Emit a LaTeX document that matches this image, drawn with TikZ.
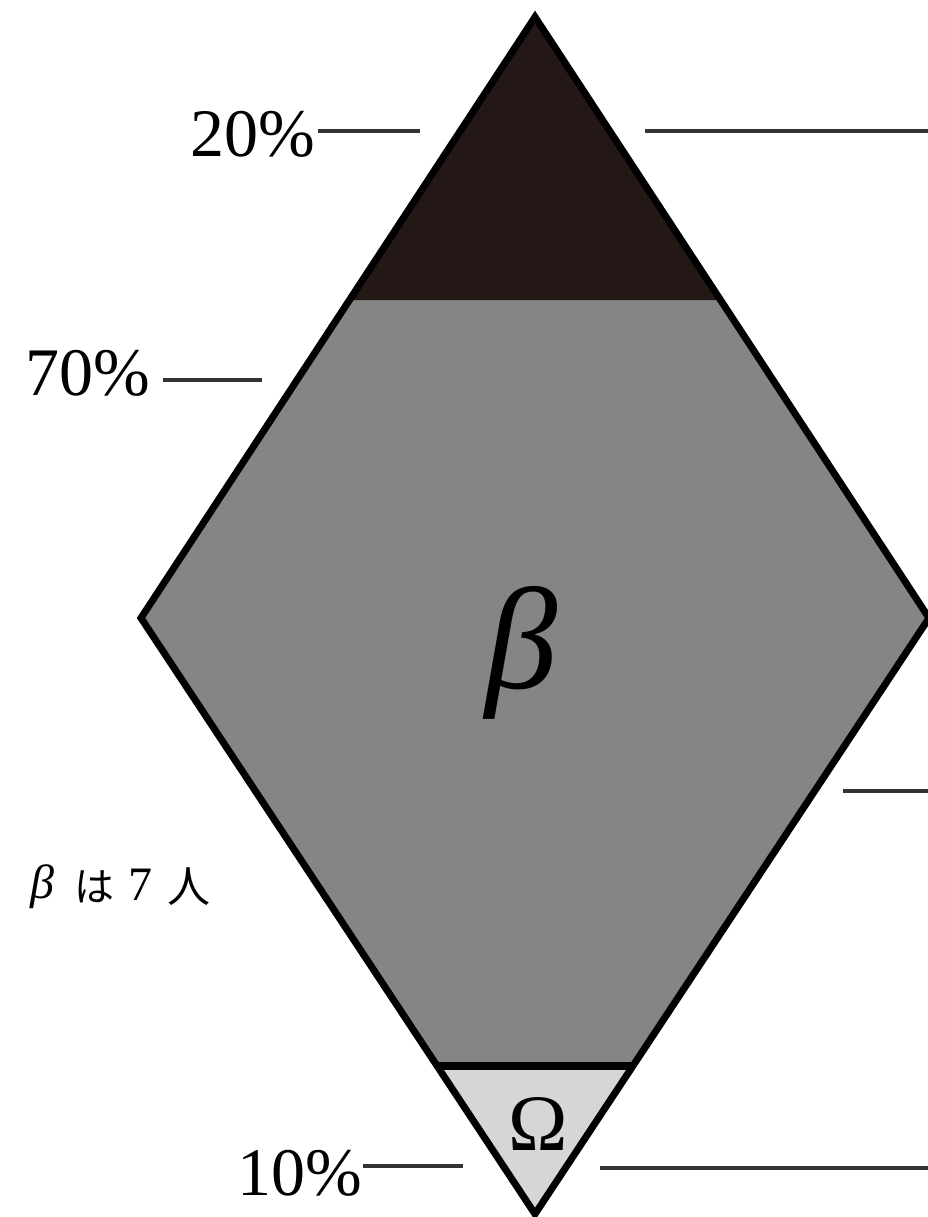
\documentclass[tikz,border=0pt]{standalone}
\usepackage{fontspec}
\setmainfont{Liberation Serif}
\newfontfamily\cjk{Noto Sans CJK JP}
\definecolor{inkdark}{HTML}{231815}
\definecolor{midgrey}{HTML}{858585}
\definecolor{lightgrey}{HTML}{D6D6D6}
\definecolor{leader}{HTML}{333333}
\tikzset{
  leaderline/.style={draw=leader, line width=3.2pt},
  pctlabel/.style={inner sep=0pt, anchor=base west, font=\fontsize{68}{68}\selectfont},
  outline/.style={draw=black, line width=7pt, line join=miter},
}
\begin{document}
\begin{tikzpicture}[x=1pt,y=-1pt]
\useasboundingbox (0,0) rectangle (928,1217);
% diamond vertices
\coordinate (T) at (535,17);
\coordinate (L) at (141,618);
\coordinate (R) at (929,618);
\coordinate (B) at (535,1214);
% region boundaries
\coordinate (UL) at (349.5,300);
\coordinate (UR) at (720.5,300);
\coordinate (DL) at (437.2,1066);
\coordinate (DR) at (632.8,1066);
% fills
\fill[midgrey] (T) -- (R) -- (B) -- (L) -- cycle;
\fill[inkdark] (T) -- (UR) -- (UL) -- cycle;
\fill[lightgrey] (DL) -- (DR) -- (B) -- cycle;
\draw[black, line width=8pt] (DL) -- (DR);
\draw[outline] (T) -- (R) -- (B) -- (L) -- cycle;
% inner labels
\node[inner sep=0pt, anchor=base, font=\fontsize{145}{145}\selectfont\itshape] (beta) at (522,688) {β};
\node[inner sep=0pt, anchor=base, font=\fontsize{80}{80}\selectfont] (omega) at (538,1150) {Ω};
% percentage labels
\node[pctlabel] (p20) at (190,157) {20\%};
\node[pctlabel] (p70) at (25,395) {70\%};
\node[pctlabel] (p10) at (237,1195) {10\%};
% leader lines
\coordinate (a1) at (318,131);
\coordinate (a2) at (420,131);
\coordinate (a3) at (645,131);
\coordinate (a4) at (928,131);
\coordinate (b1) at (163,380);
\coordinate (b2) at (262,380);
\coordinate (c1) at (843,791);
\coordinate (c2) at (928,791);
\coordinate (d1) at (363,1166);
\coordinate (d2) at (463,1166);
\coordinate (e1) at (600,1168);
\coordinate (e2) at (928,1168);
\draw[leaderline] (a1) -- (a2);
\draw[leaderline] (a3) -- (a4);
\draw[leaderline] (b1) -- (b2);
\draw[leaderline] (c1) -- (c2);
\draw[leaderline] (d1) -- (d2);
\draw[leaderline] (e1) -- (e2);
% side note
\node[inner sep=0pt, anchor=base west, font=\fontsize{48}{48}\selectfont\itshape] (nb) at (30,898) {β};
\node[inner sep=0pt, anchor=base west, font=\fontsize{40}{40}\selectfont\cjk] (nha) at (74,901) {は};
\node[inner sep=0pt, anchor=base west, font=\fontsize{48}{48}\selectfont] (n7) at (128,900) {7};
\node[inner sep=0pt, anchor=base west, font=\fontsize{43}{43}\selectfont\cjk] (nnin) at (167,902) {人};
\end{tikzpicture}
\end{document}
